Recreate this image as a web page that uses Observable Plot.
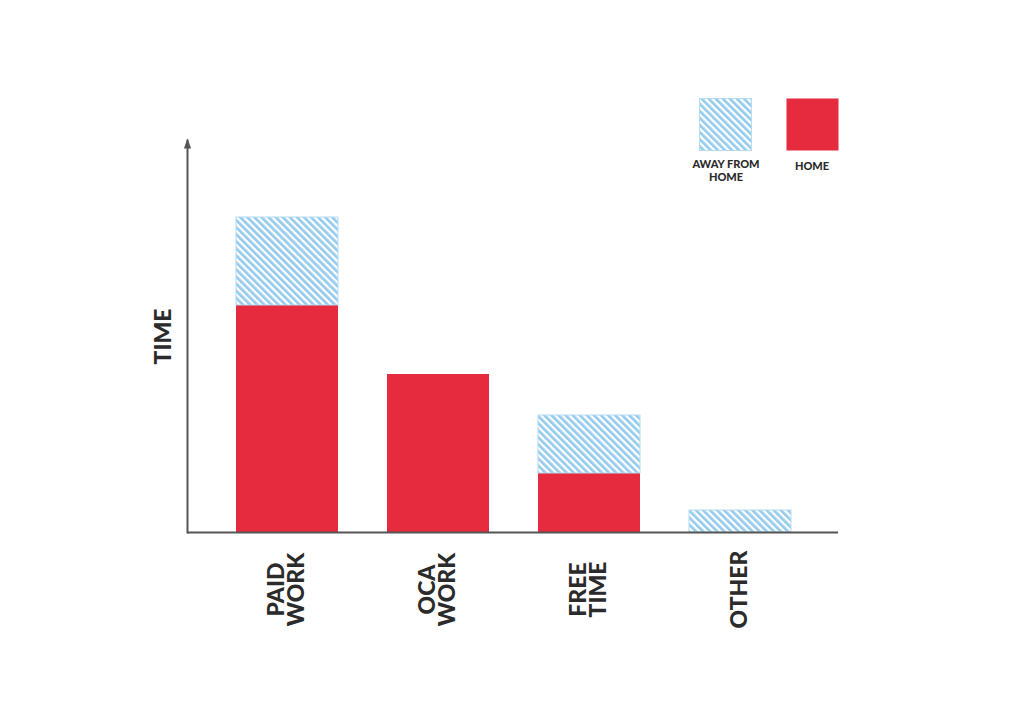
<!DOCTYPE html>
<html>
<head>
<meta charset="utf-8">
<script src="https://cdn.jsdelivr.net/npm/d3@7"></script>
<script src="https://cdn.jsdelivr.net/npm/@observablehq/plot@0.6"></script>
<style>
  html, body { margin: 0; padding: 0; background: #fff; }
  #wrap { position: relative; width: 1024px; height: 723px; }
  .leg { position: absolute; font-family: Lato, "DejaVu Sans", sans-serif; font-weight: 900; font-size: 11px; line-height: 13px; color: #2b2b2b; text-align: center; }
</style>
</head>
<body>
<div id="wrap"></div>
<script>
const categories = ["PAID\nWORK", "OCA\nWORK", "FREE\nTIME", "OTHER"];
const homeValues = [227, 158, 59, 0];
const awayValues = [88, 0, 58, 22];
const legendLabels = ["AWAY FROM\nHOME", "HOME"];

const RED = "#E52B3D";
const BLUE = "#95cbec";
const INK = "#2b2b2b";
const AXIS = "#555";
const FONT = "Lato, 'DejaVu Sans', sans-serif";

const rows = categories.map((c, i) => ({cat: c, home: homeValues[i], away: awayValues[i]}));

const arrowHead = {
  draw(ctx) {
    ctx.moveTo(0, -2);
    ctx.lineTo(3.6, 8);
    ctx.lineTo(-3.6, 8);
    ctx.closePath();
  }
};

const chart = Plot.plot({
  width: 1024,
  height: 723,
  marginLeft: 187,
  marginRight: 186,
  marginTop: 140,
  marginBottom: 191,
  x: {domain: categories, axis: null, range: [188, 839], paddingInner: 0.325, paddingOuter: 0.318},
  y: {domain: [0, 392], axis: null},
  marks: [
    Plot.barY(rows.filter(d => d.home > 0), {x: "cat", y: "home", fill: RED}),
    Plot.barY(rows.filter(d => d.away > 0), {x: "cat", y1: "home", y2: d => d.home + d.away, fill: "url(#hatch)", stroke: "#b5dcf2", strokeWidth: 1}),
    Plot.ruleY([0], {stroke: AXIS, strokeWidth: 2}),
    Plot.frame({anchor: "left", stroke: AXIS, strokeWidth: 2}),
    Plot.dot([392], {y: d => d, frameAnchor: "left", symbol: arrowHead, r: 4, fill: AXIS, stroke: "none"}),
    Plot.text(rows, {x: "cat", text: "cat", frameAnchor: "bottom", dy: 57, rotate: -90, textAnchor: "middle", lineAnchor: "middle", lineHeight: 0.87, fontSize: 23, fontWeight: 900, fontFamily: FONT, fill: INK}),
    Plot.text(["TIME"], {text: d => d, frameAnchor: "left", dx: -24, rotate: -90, textAnchor: "middle", lineAnchor: "middle", fontSize: 23, fontWeight: 900, fontFamily: FONT, fill: INK})
  ]
});

const svg = d3.select(chart);
const defs = svg.insert("defs", ":first-child");
const pat = defs.append("pattern")
  .attr("id", "hatch")
  .attr("patternUnits", "userSpaceOnUse")
  .attr("width", 5).attr("height", 5)
  .attr("patternTransform", "rotate(-45)");
pat.append("rect").attr("width", 5).attr("height", 5).attr("fill", "#fff");
pat.append("rect").attr("width", 2.7).attr("height", 5).attr("fill", BLUE);

const wrap = document.getElementById("wrap");
wrap.appendChild(chart);

// legend
function addSwatch(left, fill) {
  const s = document.createElementNS("http://www.w3.org/2000/svg", "svg");
  s.setAttribute("width", 53); s.setAttribute("height", 53);
  s.style.position = "absolute"; s.style.left = left + "px"; s.style.top = "98px";
  const r = document.createElementNS("http://www.w3.org/2000/svg", "rect");
  r.setAttribute("x", 0.5); r.setAttribute("y", 0.5); r.setAttribute("width", 52); r.setAttribute("height", 52);
  r.setAttribute("fill", fill);
  if (fill.startsWith("url")) { r.setAttribute("stroke", "#b5dcf2"); r.setAttribute("stroke-width", 1); }
  s.appendChild(r);
  wrap.appendChild(s);
}
addSwatch(699, "url(#hatch)");
addSwatch(786, RED);

function addLabel(center, top, text) {
  const d = document.createElement("div");
  d.className = "leg";
  d.style.left = (center - 50) + "px";
  d.style.width = "100px";
  d.style.top = top + "px";
  d.innerHTML = text.split("\n").join("<br>");
  wrap.appendChild(d);
}
addLabel(726, 157, legendLabels[0]);
addLabel(812, 159, legendLabels[1]);
</script>
</body>
</html>
